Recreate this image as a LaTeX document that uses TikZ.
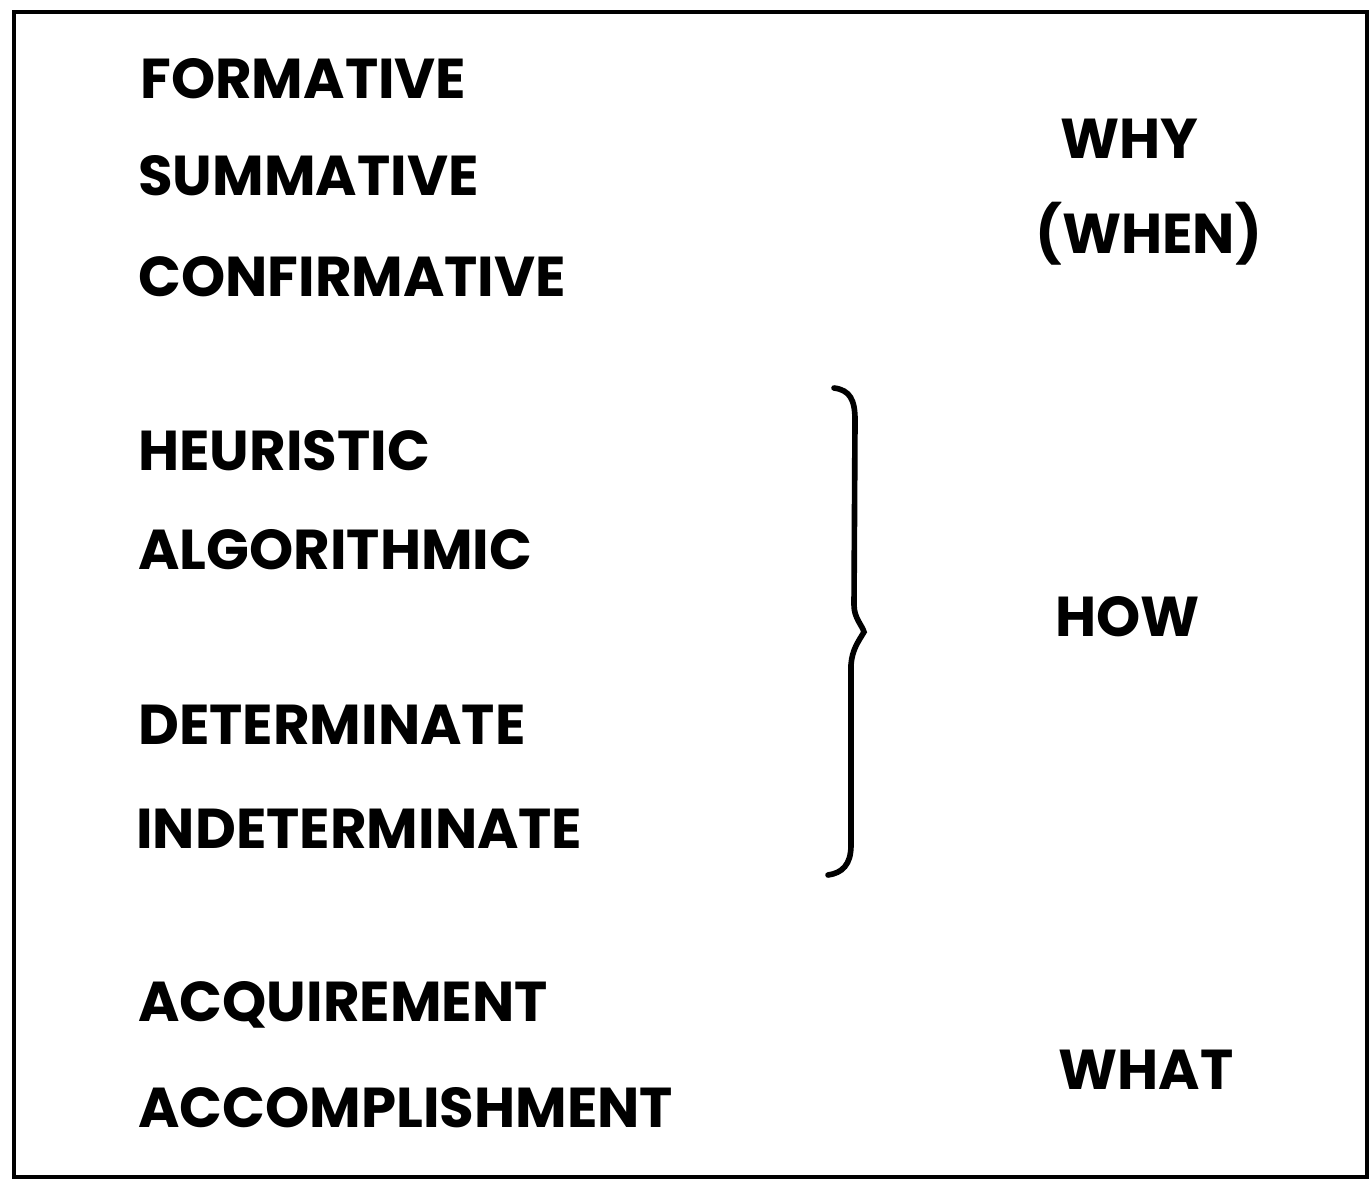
\documentclass[tikz,border=0pt]{standalone}
\usepackage{fontspec}
\setmainfont{Poppins}
\begin{document}
\begin{tikzpicture}[x=0.02cm,y=-0.02cm]
\tikzset{
	mot/.style={anchor=base west,inner sep=0pt,font=\fontsize{32}{32}\selectfont\bfseries},
	quoi/.style={mot,anchor=base west}
}
\useasboundingbox (0,0) rectangle (1371,1180);

 % le cadre
  \draw[line width=2pt] (14,12) rectangle (1367,1177);

 % la colonne de gauche
  \node[mot] (formative) at (140,98) {FORMATIVE};
  \node[mot] (summative) at (138,195) {SUMMATIVE};
  \node[mot] (confirmative) at (138,296) {CONFIRMATIVE};
  \node[mot] (heuristic) at (138,470) {HEURISTIC};
  \node[mot] (algorithmic) at (138,569) {ALGORITHMIC};
  \node[mot] (determinate) at (138,744) {DETERMINATE};
  \node[mot] (indeterminate) at (136,848) {INDETERMINATE};
  \node[mot] (acquirement) at (138,1021) {ACQUIREMENT};
  \node[mot] (accomplishment) at (138,1127) {ACCOMPLISHMENT};

 % la colonne de droite
  \node[quoi] (why) at (1060,158) {WHY};
  \node[quoi] (when) at (1035,253) {(WHEN)};
  \node[quoi] (how) at (1055,636) {HOW};
  \node[quoi] (what) at (1058,1089) {WHAT};

% l'accolade
  \draw[line width=3.2pt,line cap=round] (834,388) .. controls (850,390) and (855,400) .. (855,420)
     -- (854,605) .. controls (854,618) and (862,625) .. (864,632)
     .. controls (858,642) and (852,650) .. (851,665)
     -- (851,845) .. controls (851,865) and (842,873) .. (828,875);
\end{tikzpicture}
\end{document}
